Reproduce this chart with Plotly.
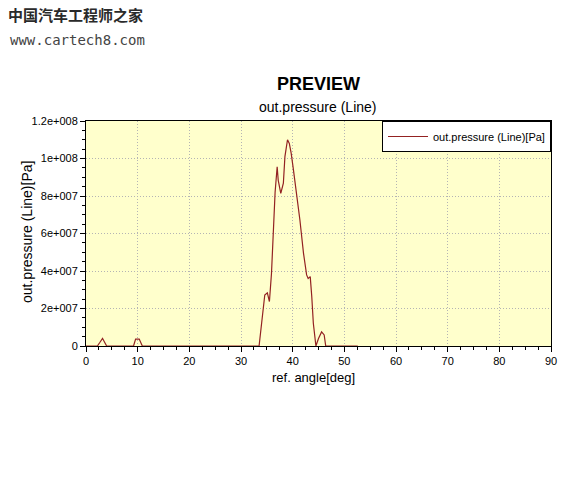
import plotly.graph_objects as go

# crank angle [deg] and outlet pressure [Pa]
angle_deg = [0, 2.2, 2.7, 3.2, 3.6, 4.0, 9.2, 9.6, 10.3, 10.9,
             33.5, 34.0, 34.6, 35.1, 35.5, 35.9, 36.3, 36.6, 37.0, 37.2,
             37.7, 38.2, 38.5, 39.0, 39.35, 39.7, 40.1, 40.8, 41.4, 42.1,
             42.7, 43.0, 43.4, 43.7, 44.0, 44.5, 45.0, 45.6, 46.1, 46.4,
             52.6]
pressure_pa = [0, 0, 2.0e6, 4.1e6, 2.0e6, 0, 0, 3.7e6, 3.7e6, 0,
               0, 1.4e7, 2.72e7, 2.84e7, 2.37e7, 3.87e7, 6.7e7, 8.2e7, 9.56e7, 8.85e7,
               8.14e7, 8.68e7, 1.01e8, 1.10e8, 1.08e8, 1.03e8, 9.5e7, 8.14e7, 6.72e7, 4.94e7,
               3.79e7, 3.6e7, 3.7e7, 2.63e7, 1.21e7, 0, 4.0e6, 7.5e6, 5.9e6, 0,
               0]

y_ticks = [0, 2e7, 4e7, 6e7, 8e7, 1e8, 1.2e8]
y_tick_labels = ["0", "2e+007", "4e+007", "6e+007", "8e+007", "1e+008", "1.2e+008"]

LINE_RED = "#932222"
FONT = "Liberation Sans, Arial, sans-serif"

fig = go.Figure()

fig.add_trace(
    go.Scatter(
        x=angle_deg,
        y=pressure_pa,
        mode="lines",
        name="out.pressure (Line)[Pa]",
        line=dict(color=LINE_RED, width=1.2),
    )
)

axis_style = dict(
    ticks="outside",
    ticklen=5,
    tickcolor="black",
    showline=True,
    linecolor="black",
    linewidth=1,
    mirror=True,
    showgrid=True,
    gridcolor="#b4b4b4",
    griddash="1px,2px",
    gridwidth=1,
    zeroline=False,
    tickfont=dict(size=11, color="black"),
)

fig.update_xaxes(
    range=[0, 90],
    dtick=10,
    minor=dict(dtick=2.5, ticks="outside", ticklen=3, tickcolor="black", showgrid=False),
    **axis_style,
)

fig.update_yaxes(
    range=[0, 1.2e8],
    tickmode="array",
    tickvals=y_ticks,
    ticktext=y_tick_labels,
    minor=dict(dtick=5e6, ticks="outside", ticklen=3, tickcolor="black", showgrid=False),
    **axis_style,
)

fig.update_layout(
    width=578,
    height=496,
    margin=dict(l=86, r=27, t=121, b=150),
    paper_bgcolor="white",
    plot_bgcolor="#ffffcc",
    font=dict(family=FONT, color="black"),
    showlegend=True,
    legend=dict(
        x=1,
        y=1,
        xanchor="right",
        yanchor="top",
        bgcolor="white",
        bordercolor="black",
        borderwidth=1,
        font=dict(size=11, color="black"),
        itemwidth=40,
    ),
    annotations=[
        dict(text="<b>PREVIEW</b>", x=318, y=84, font=dict(size=18, color="black")),
        dict(text="out.pressure (Line)", x=318, y=107, font=dict(size=14, color="black")),
        dict(text="ref. angle[deg]", x=313, y=377, font=dict(size=13, color="black")),
        dict(text="out.pressure (Line)[Pa]", x=27, y=232, textangle=-90,
             font=dict(size=14, color="black")),
        dict(text="<b>中国汽车工程师之家</b>", x=75, y=14,
             font=dict(size=15, color="#2a2a2a", family="Noto Sans CJK SC")),
        dict(text="www.cartech8.com", x=77, y=40,
             font=dict(size=14, color="#444444", family="DejaVu Sans Mono")),
    ],
)

# annotation positions above are pixel centres; convert to paper coords
plot_w = 578 - 86 - 27
plot_h = 496 - 121 - 150
for ann in fig.layout.annotations:
    ann.x = (ann.x - 86) / plot_w
    ann.y = (346 - ann.y) / plot_h
    ann.xref = "paper"
    ann.yref = "paper"
    ann.xanchor = "center"
    ann.yanchor = "middle"
    ann.showarrow = False

fig.write_html(
    "out.html",
    config={"displayModeBar": False},
    post_script="document.body.style.margin='0';",
)
